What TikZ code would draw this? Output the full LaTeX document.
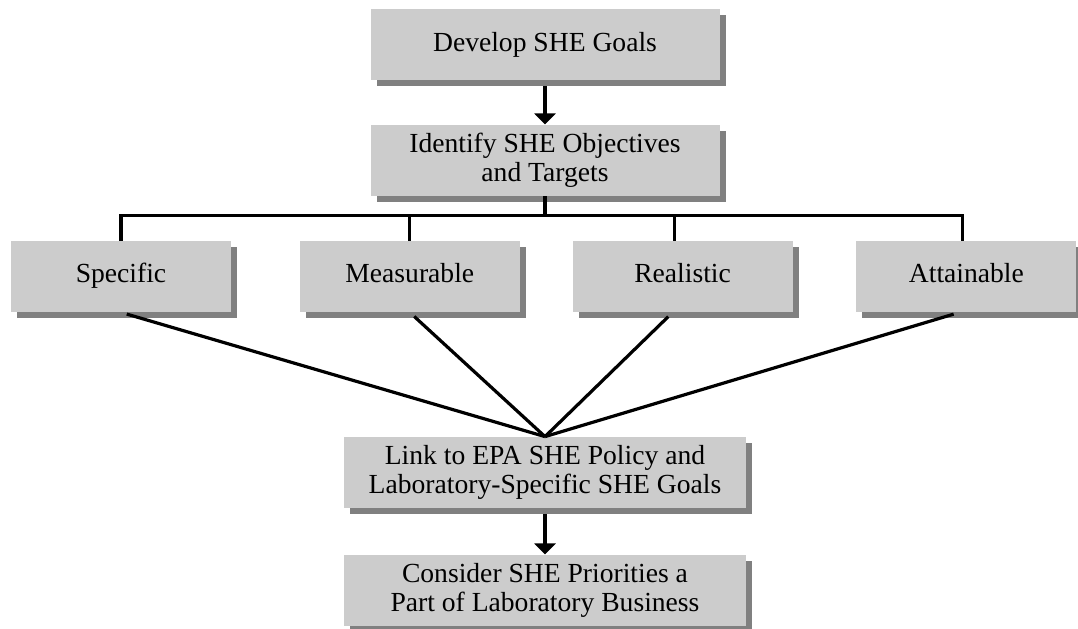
\documentclass[tikz,border=0pt]{standalone}
\usepackage{fontspec}
\setmainfont{Liberation Serif}
\usetikzlibrary{arrows.meta,calc,positioning,shadows}

\begin{document}
\begin{tikzpicture}[
  font=\fontsize{13.8}{14.6}\selectfont,
  stage/.style={fill=black!20, align=center, inner sep=2pt,
                minimum width=174.5pt, minimum height=35.5pt,
                drop shadow={shadow xshift=3pt, shadow yshift=-3pt, fill=black!50, opacity=1}},
  crit/.style={stage, minimum width=110pt, text height=9.4pt, text depth=3pt},
  wide/.style={stage, minimum width=201pt},
  arr/.style={-{Triangle[width=10.5pt,length=5.5pt]}, line width=1.6pt},
  ln/.style={line width=1.6pt, line join=miter}]
\useasboundingbox (0,0) rectangle (539pt,-314pt);
\node[stage] (goals) at (272.5pt,-22.25pt) {Develop SHE Goals};
\node[stage, below=22pt of goals] (obj) {Identify SHE Objectives\\and Targets};
\node[crit] (spec) at (60.5pt,-138.25pt) {Specific};
\node[crit, right=34pt of spec] (meas) {Measurable};
\node[crit, right=26pt of meas] (real) {Realistic};
\node[crit, right=31.5pt of real] (attn) {Attainable};
\node[wide] (link) at (272.5pt,-236.25pt) {Link to EPA SHE Policy and\\Laboratory-Specific SHE Goals};
\node[wide, below=23pt of link] (cons) {Consider SHE Priorities a\\Part of Laboratory Business};
\draw[arr, shorten <=3pt] (goals) -- (obj);
% bus to the four criteria
\coordinate (bus) at ($(obj.south)+(0,-9.5pt)$);
\draw[ln] (obj.south) -- (bus);
\draw[ln] (spec.north) |- ([xshift=-2pt]bus -| attn.north) -- ([xshift=-2pt]attn.north);
\draw[ln] (meas.north) -- (meas.north |- bus);
\draw[ln] ([xshift=-4pt]real.north) -- ([xshift=-4pt]real.north |- bus);
% criteria converge on the link box
\draw[ln, shorten <=3pt] (spec.south) -- (link.north);
\draw[ln, shorten <=3pt] (meas.south) -- (link.north);
\draw[ln, shorten <=3pt] ([xshift=-5pt]real.south) -- (link.north);
\draw[ln, shorten <=3pt] ([xshift=-3.5pt]attn.south) -- (link.north);
\draw[arr, shorten <=3pt] (link) -- (cons);
\end{tikzpicture}
\end{document}
